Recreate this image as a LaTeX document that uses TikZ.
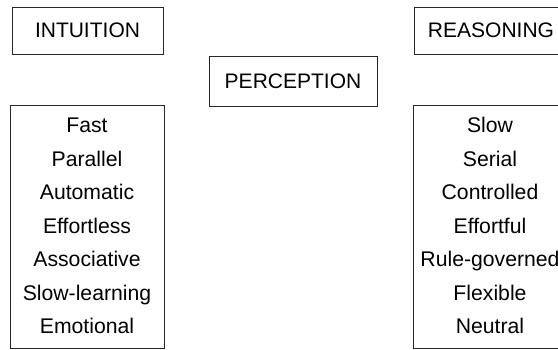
\documentclass[tikz,border=0pt]{standalone}
\usepackage{fontspec}
\setmainfont{Liberation Sans}
\begin{document}
\begin{tikzpicture}[x=1pt,y=-1pt,
  box/.style={draw=black!85,line width=0.8pt,rectangle,inner sep=0pt},
  lbl/.style={font=\fontsize{21}{24}\selectfont,inner sep=0pt},
  item/.style={font=\fontsize{21.2}{24}\selectfont,inner sep=0pt,anchor=base}]
\useasboundingbox (0,0) rectangle (558,350);
\clip (0,0) rectangle (558,350);
% header boxes
\node[box,minimum width=151pt,minimum height=47pt] (intbox) at (87.5,30.5) {};
\node[lbl] (intuition) at (intbox.center) {INTUITION};
\node[box,minimum width=168pt,minimum height=50pt] (perbox) at (293,81) {};
\node[lbl] (perception) at (perbox.center) {PERCEPTION};
\node[box,minimum width=154pt,minimum height=47pt] (reabox) at (491,30.5) {};
\node[lbl] (reasoning) at (reabox.center) {REASONING};
% list boxes
\node[box,minimum width=154pt,minimum height=243pt] (leftlist) at (87,226.5) {};
\node[box,minimum width=154pt,minimum height=243pt] (rightlist) at (490,226.5) {};
% left items
\node[item] (l1) at (87,133) {Fast};
\node[item] (l2) at (87,166.5) {Parallel};
\node[item] (l3) at (87,200) {Automatic};
\node[item] (l4) at (87,233.5) {Effortless};
\node[item] (l5) at (87,267) {Associative};
\node[item] (l6) at (87,300.5) {Slow-learning};
\node[item] (l7) at (87,334) {Emotional};
% right items
\node[item] (r1) at (490,133) {Slow};
\node[item] (r2) at (490,166.5) {Serial};
\node[item] (r3) at (490,200) {Controlled};
\node[item] (r4) at (490,233.5) {Effortful};
\node[item] (r5) at (490,267) {Rule-governed};
\node[item] (r6) at (490,300.5) {Flexible};
\node[item] (r7) at (490,334) {Neutral};
\end{tikzpicture}
\end{document}
